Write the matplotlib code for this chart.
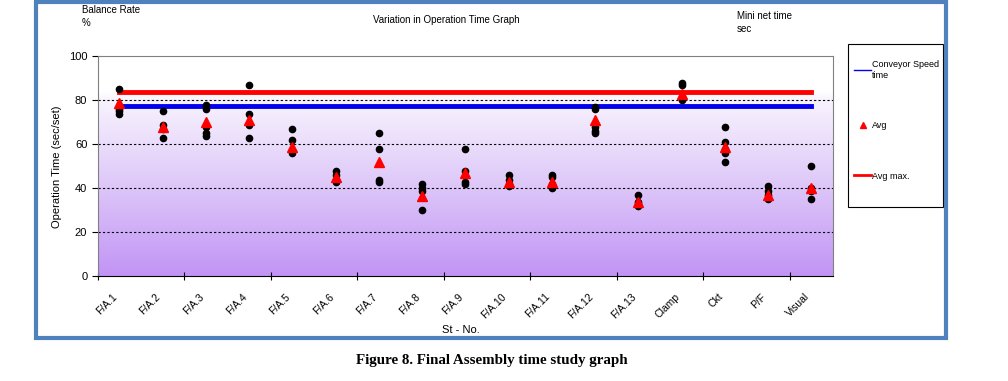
import numpy as np
import matplotlib.pyplot as plt
from matplotlib.lines import Line2D
from matplotlib.patches import Rectangle
from matplotlib.colors import LinearSegmentedColormap

# =========================
# DATA
# =========================
stations = ["F/A.1", "F/A.2", "F/A.3", "F/A.4", "F/A.5", "F/A.6", "F/A.7",
            "F/A.8", "F/A.9", "F/A.10", "F/A.11", "F/A.12", "F/A.13",
            "Clamp", "Ckt", "P/F", "Visual"]

# individual measured times (sec/set)
samples = [
    [85, 76, 75, 74],
    [75, 69, 67, 63],
    [78, 76, 68, 65, 64],
    [87, 74, 69, 63],
    [67, 62, 57, 56],
    [48, 46, 44, 43],
    [65, 58, 44, 43],
    [42, 40, 39, 30],
    [58, 48, 43, 42],
    [46, 44, 42, 41],
    [46, 45, 42, 40],
    [77, 76, 68, 66, 65],
    [37, 34, 33, 32],
    [88, 87, 81, 80],
    [68, 61, 58, 56, 52],
    [41, 39, 37, 35],
    [50, 40, 39, 35],
]

avg = [79, 68, 70, 71, 59, 45, 52, 36.5, 47, 43, 43, 71, 34, 83, 59, 37, 40]
conveyor_speed = 77.3
avg_max = 83.6

# =========================
# FIGURE
# =========================
plt.rcParams['font.family'] = ['Liberation Sans', 'DejaVu Sans']
fig = plt.figure(figsize=(10.08, 3.81), dpi=100)
ax = fig.add_axes([0.0969, 0.2748, 0.7295, 0.5774])

x = np.arange(len(stations))

# gradient background (white at top -> lavender at bottom)
cmap = LinearSegmentedColormap.from_list(
    "bg", [(0.0, "#c294f5"), (0.45, "#e0ccf9"), (0.8, "#f8f3fe"), (0.84, "#ffffff"), (1.0, "#ffffff")])
grad = np.linspace(0, 1, 256).reshape(-1, 1)
ax.imshow(grad, aspect="auto", cmap=cmap, origin="lower",
          extent=[-0.5, len(stations) - 0.5, 0, 100], zorder=0)

for yv in [20, 40, 60, 80]:
    ax.axhline(yv, color="black", linestyle=(0, (2, 2)), linewidth=0.8, zorder=1)

for i, vals in enumerate(samples):
    ax.plot([x[i]] * len(vals), vals, "o", color="black", markersize=4.5, zorder=3)

ax.plot(x, [conveyor_speed] * len(x), color="#0000ee", linewidth=3.5, zorder=2)
ax.plot(x, [avg_max] * len(x), color="#ff0000", linewidth=3.5, zorder=2)
ax.plot(x, avg, "^", color="#ff0000", markersize=7, zorder=4)

ax.set_xlim(-0.5, len(stations) - 0.5)
ax.set_ylim(0, 100)
ax.set_yticks([0, 20, 40, 60, 80, 100])
ax.tick_params(axis="y", labelsize=8, length=4, direction="out")
ax.set_xticks(np.arange(-0.5, len(stations), 2))
ax.set_xticklabels([])
ax.tick_params(axis="x", length=6, direction="inout")
ax.set_xticks(x, minor=True)
ax.set_xticklabels(stations, minor=True, rotation=45, ha="right", fontsize=7.5)
ax.tick_params(axis="x", which="minor", length=0, pad=11)

for s in ["top", "right", "left"]:
    ax.spines[s].set_color("#808080")
ax.spines["bottom"].set_color("black")

ax.set_ylabel("Operation Time (sec/set)", fontsize=8, labelpad=5)

# texts around the chart
fig.text(0.081, 0.973, "Balance Rate", fontsize=7, va="center")
fig.text(0.081, 0.94, "%", fontsize=7, va="center")
fig.text(0.443, 0.947, "Variation in Operation Time Graph", fontsize=7, ha="center", va="center")
fig.text(0.731, 0.958, "Mini net time", fontsize=7, va="center")
fig.text(0.731, 0.924, "sec", fontsize=7, va="center")
fig.text(0.457, 0.133, "St - No.", fontsize=8, ha="center", va="center")

# legend (fixed frame, entries inside)
fig.patches.append(Rectangle((0.8413, 0.4567), 0.0942, 0.4278, transform=fig.transFigure,
                             fill=False, edgecolor="black", linewidth=0.8))
handles = [Line2D([], [], color="#0000ee", linewidth=1),
           Line2D([], [], color="#ff0000", marker="^", linestyle="none", markersize=5),
           Line2D([], [], color="#ff0000", linewidth=2)]
labels = ["Conveyor Speed\ntime", "Avg", "Avg max."]
leg = fig.legend(handles, labels, loc="upper left", bbox_to_anchor=(0.8475, 0.842),
                 fontsize=6.5, frameon=False, labelspacing=4.6, handlelength=1.9,
                 handletextpad=0.1, borderpad=0, borderaxespad=0)

# outer border
fig.patches.append(Rectangle((0.0357, 0.1129), 0.9028, 0.883, transform=fig.transFigure,
                             fill=False, edgecolor="#4f81bd", linewidth=3))

fig.text(0.488, 0.055, "Figure 8. Final Assembly time study graph",
         fontsize=10.8, family="Liberation Serif", fontweight="bold", ha="center", va="center")

fig.savefig("out.png", dpi=100)
